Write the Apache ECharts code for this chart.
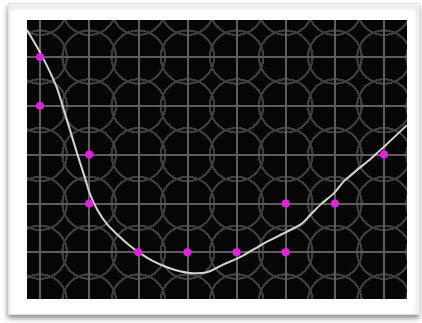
<!DOCTYPE html>
<html>
<head>
<meta charset="utf-8">
<script src="https://cdn.jsdelivr.net/npm/echarts@6/dist/echarts.min.js"></script>
<style>
html,body{margin:0;padding:0;background:#ffffff;}
#chart{width:422px;height:323px;}
</style>
</head>
<body>
<div id="chart"></div>
<script>
// Grid line positions (axis units)
var xGridValues = [1, 2, 3, 4, 5, 6, 7, 8];
var yGridValues = [0, 1, 2, 3, 4];

// Axis extents
var xRange = [0.735, 8.468];
var yRange = [-0.96, 4.76];

// Magenta points
var pointX = [1, 1, 2, 2, 3, 4, 5, 6, 6, 7, 8];
var pointY = [4, 3, 2, 1, 0, 0, 0, 0, 1, 1, 2];

// White curve
var curveX = [0.735, 0.939, 1.061, 1.204, 1.346, 1.468, 1.610, 1.753, 1.916, 2.017, 2.160, 2.363, 2.567, 2.791, 3.035, 3.300, 3.584, 3.849, 4.113, 4.398, 4.744, 5.029, 5.355, 5.640, 5.965, 6.311, 6.515, 6.718, 6.983, 7.186, 7.471, 7.675, 7.878, 8.143, 8.468];
var curveY = [4.554, 4.205, 3.979, 3.692, 3.364, 2.974, 2.503, 2.031, 1.518, 1.190, 0.882, 0.574, 0.369, 0.164, -0.021, -0.185, -0.308, -0.390, -0.431, -0.410, -0.246, -0.123, 0.062, 0.226, 0.390, 0.574, 0.779, 0.985, 1.210, 1.456, 1.703, 1.867, 2.051, 2.297, 2.605];

var chart = echarts.init(document.getElementById('chart'), null, {renderer: 'canvas'});

function zip(a, b) { return a.map(function (v, i) { return [v, b[i]]; }); }

var gridLineData = xGridValues.map(function (v) { return {xAxis: v}; })
  .concat(yGridValues.map(function (v) { return {yAxis: v}; }));

var option = {
  backgroundColor: '#ffffff',
  animation: false,
  graphic: [{
    type: 'rect',
    z: -10,
    shape: {x: 8.5, y: 3.5, width: 411, height: 311},
    style: {
      fill: '#ffffff',
      stroke: '#e2e2e2',
      lineWidth: 1,
      shadowBlur: 5,
      shadowOffsetX: -1,
      shadowOffsetY: 3,
      shadowColor: 'rgba(0,0,0,0.45)'
    },
    silent: true
  }],
  grid: {
    left: 27, top: 20, right: 15, bottom: 24,
    show: true,
    backgroundColor: '#060606',
    borderWidth: 0
  },
  xAxis: {
    type: 'value', min: xRange[0], max: xRange[1],
    axisLine: {show: false}, axisTick: {show: false},
    axisLabel: {show: false}, splitLine: {show: false}
  },
  yAxis: {
    type: 'value', min: yRange[0], max: yRange[1],
    axisLine: {show: false}, axisTick: {show: false},
    axisLabel: {show: false}, splitLine: {show: false}
  },
  series: [
    {
      type: 'line', data: [], z: 1, silent: true,
      markLine: {
        z: 1,
        silent: true, symbol: 'none', animation: false,
        label: {show: false},
        lineStyle: {color: '#5d5d5d', width: 2, type: 'solid', opacity: 1},
        emphasis: {disabled: true},
        data: gridLineData
      }
    },
    {
      type: 'line', z: 2, silent: true,
      data: zip(curveX, curveY),
      showSymbol: false, smooth: 0.3,
      lineStyle: {color: '#d4d4d4', width: 2}
    },
    {
      type: 'scatter', z: 3, silent: true,
      data: zip(pointX, pointY),
      symbolSize: 8,
      itemStyle: {color: '#e61ee6', opacity: 1}
    }
  ]
};
chart.setOption(option);

// Background circle pattern aligned with the grid intersections
var p0 = chart.convertToPixel({gridIndex: 0}, [xGridValues[0], yGridValues[0]]);
var p1 = chart.convertToPixel({gridIndex: 0}, [xGridValues[1], yGridValues[1]]);
var sx = Math.abs(p1[0] - p0[0]);
var sy = Math.abs(p1[1] - p0[1]);
var T = 200;
var tile = document.createElement('canvas');
tile.width = T; tile.height = T;
var ctx = tile.getContext('2d');
ctx.fillStyle = '#060606';
ctx.fillRect(0, 0, T, T);
ctx.strokeStyle = '#3e3e3e';
ctx.lineWidth = 2.2 * T / sx;
var R = T * 0.545;
[[0, 0], [T, 0], [0, T], [T, T]].forEach(function (c) {
  ctx.beginPath();
  ctx.arc(c[0], c[1], R, 0, Math.PI * 2);
  ctx.stroke();
});
chart.setOption({
  grid: {
    backgroundColor: {
      image: tile, repeat: 'repeat',
      x: p0[0], y: p0[1],
      scaleX: sx / T, scaleY: sy / T
    }
  }
});
</script>
</body>
</html>
